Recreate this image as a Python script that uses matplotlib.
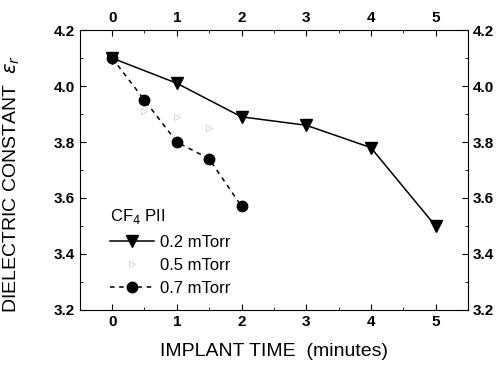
import matplotlib
matplotlib.use('Agg')
import matplotlib.pyplot as plt
from matplotlib.ticker import MultipleLocator

plt.rcParams['font.family'] = ['Liberation Sans', 'DejaVu Sans']

# data
t_02 = [0, 1, 2, 3, 4, 5]
k_02 = [4.10, 4.01, 3.89, 3.86, 3.78, 3.50]
t_05 = [0.5, 1.0, 1.5]
k_05 = [3.91, 3.89, 3.85]
t_07 = [0, 0.5, 1.0, 1.5, 2.0]
k_07 = [4.10, 3.95, 3.80, 3.74, 3.57]
x_ticks = [0, 1, 2, 3, 4, 5]
y_ticks = [3.2, 3.4, 3.6, 3.8, 4.0, 4.2]

fig = plt.figure(figsize=(5.02, 3.72), dpi=100)
ax = fig.add_axes([0.159, 0.167, 0.773, 0.752])

ax.plot(t_02, k_02, '-', color='black', lw=1.1, marker='v', ms=8, label='0.2 mTorr')
ax.plot(t_05, k_05, color='#d8d8d8', marker='>', ms=4, mfc='none', mew=0.7,
        linestyle='none', label='0.5 mTorr')
ax.plot(t_07, k_07, '--', color='black', lw=1.1, dashes=(3, 3), marker='o', ms=7.5,
        label='0.7 mTorr')

ax.set_xlim(-0.5, 5.5)
ax.set_ylim(3.2, 4.2)
ax.set_xticks(x_ticks)
ax.set_yticks(y_ticks)
ax.xaxis.set_minor_locator(MultipleLocator(0.5))
ax.yaxis.set_minor_locator(MultipleLocator(0.1))
ax.tick_params(which='both', direction='in', top=True, right=True,
               labeltop=True, labelright=True, labelsize=11)
ax.tick_params(which='major', length=4)
ax.tick_params(which='minor', length=2)
ax.set_yticklabels(['%.1f' % v for v in y_ticks], fontweight='bold')
ax.set_xticklabels([str(v) for v in x_ticks], fontweight='bold')

ax.set_xlabel('IMPLANT TIME  (minutes)', fontsize=14, labelpad=10)
ax.set_ylabel(r'DIELECTRIC CONSTANT  $\varepsilon_r$', fontsize=14)
ax.yaxis.set_label_coords(-0.15, 0.45)

leg = ax.legend(loc='lower left', bbox_to_anchor=(0.04, -0.005), frameon=False,
                title=r'CF$_4$ PII', fontsize=12, title_fontsize=12,
                handlelength=2.6, handletextpad=0.4, labelspacing=0.5)
leg._legend_box.align = 'left'

fig.savefig('out.png', dpi=100)
